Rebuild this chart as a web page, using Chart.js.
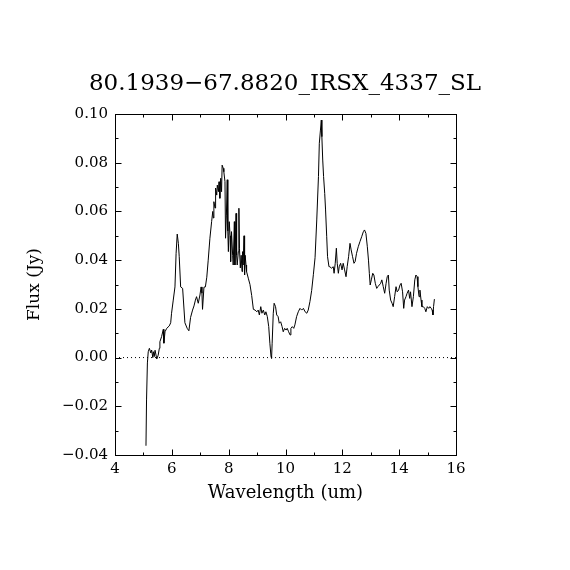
<!DOCTYPE html>
<html>
<head>
<meta charset="utf-8">
<title>80.1939-67.8820_IRSX_4337_SL</title>
<script src="https://cdn.jsdelivr.net/npm/chart.js@4.4.1/dist/chart.umd.min.js"></script>
<style>
  html, body { margin: 0; padding: 0; background: #fff; }
  #wrap { width: 570px; height: 570px; }
</style>
</head>
<body>
<div id="wrap"><canvas id="chart" width="570" height="570"></canvas></div>

<script>
    // spectrum
    var wavelength = [
        5.09, 5.11, 5.14, 5.17, 5.21, 5.26, 5.29, 5.33, 5.35, 5.38,
        5.41, 5.47, 5.52, 5.56, 5.58, 5.64, 5.70, 5.72, 5.76, 5.82,
        5.91, 5.96, 5.99, 6.05, 6.11, 6.15, 6.19, 6.23, 6.26, 6.31,
        6.38, 6.46, 6.54, 6.60, 6.66, 6.73, 6.78, 6.83, 6.87, 6.93,
        6.99, 7.03, 7.06, 7.08, 7.13, 7.18, 7.23, 7.28, 7.34, 7.40,
        7.44, 7.46, 7.48, 7.52, 7.54, 7.58, 7.60, 7.64, 7.66, 7.69,
        7.72, 7.75, 7.77, 7.81, 7.83, 7.87, 7.89, 7.92, 7.95, 7.97,
        7.99, 8.02, 8.05, 8.07, 8.10, 8.14, 8.16, 8.20, 8.22, 8.26,
        8.28, 8.30, 8.34, 8.36, 8.38, 8.41, 8.44, 8.47, 8.49, 8.51,
        8.54, 8.56, 8.58, 8.61, 8.63, 8.69, 8.75, 8.81, 8.87, 8.93,
        8.99, 9.04, 9.08, 9.13, 9.17, 9.22, 9.27, 9.31, 9.36, 9.41,
        9.45, 9.49, 9.51, 9.53, 9.57, 9.60, 9.65, 9.69, 9.74, 9.78,
        9.83, 9.88, 9.92, 9.97, 10.02, 10.06, 10.11, 10.16, 10.19, 10.24,
        10.29, 10.33, 10.39, 10.45, 10.51, 10.57, 10.63, 10.69, 10.75, 10.80,
        10.86, 10.92, 10.98, 11.04, 11.10, 11.16, 11.19, 11.23, 11.26, 11.28,
        11.31, 11.34, 11.38, 11.41, 11.45, 11.48, 11.53, 11.56, 11.62, 11.68,
        11.71, 11.75, 11.79, 11.82, 11.86, 11.89, 11.94, 11.99, 12.03, 12.08,
        12.13, 12.17, 12.22, 12.27, 12.31, 12.36, 12.41, 12.45, 12.50, 12.56,
        12.62, 12.68, 12.74, 12.78, 12.83, 12.88, 12.92, 12.95, 12.98, 13.02,
        13.07, 13.11, 13.16, 13.21, 13.25, 13.30, 13.35, 13.39, 13.44, 13.49,
        13.54, 13.58, 13.62, 13.65, 13.70, 13.75, 13.79, 13.84, 13.89, 13.93,
        13.98, 14.03, 14.07, 14.12, 14.16, 14.19, 14.24, 14.28, 14.33, 14.37,
        14.40, 14.45, 14.50, 14.55, 14.59, 14.63, 14.66, 14.70, 14.73, 14.77,
        14.80, 14.85, 14.90, 14.94, 14.99, 15.04, 15.08, 15.13, 15.16, 15.19,
        15.21, 15.24
    ];
    var flux = [
        -0.0362, -0.0174, -0.0022, 0.0024, 0.0038, 0.0019, 0.0031, 0.0000, 0.0024, 0.0004,
        0.0030, -0.0006, 0.0010, 0.0038, 0.0065, 0.0086, 0.0116, 0.0059, 0.0106, 0.0120,
        0.0130, 0.0143, 0.0182, 0.0236, 0.0290, 0.0428, 0.0507, 0.0469, 0.0414, 0.0290,
        0.0284, 0.0143, 0.0120, 0.0110, 0.0165, 0.0195, 0.0212, 0.0236, 0.0250, 0.0223,
        0.0257, 0.0290, 0.0264, 0.0198, 0.0289, 0.0290, 0.0330, 0.0400, 0.0490, 0.0558,
        0.0600, 0.0573, 0.0640, 0.0614, 0.0696, 0.0667, 0.0708, 0.0681, 0.0722, 0.0654,
        0.0736, 0.0681, 0.0790, 0.0777, 0.0763, 0.0722, 0.0490, 0.0585, 0.0730, 0.0520,
        0.0435, 0.0558, 0.0500, 0.0394, 0.0517, 0.0420, 0.0380, 0.0558, 0.0380, 0.0592,
        0.0420, 0.0380, 0.0435, 0.0613, 0.0449, 0.0368, 0.0420, 0.0353, 0.0435, 0.0380,
        0.0500, 0.0339, 0.0420, 0.0380, 0.0353, 0.0326, 0.0300, 0.0255, 0.0198, 0.0195,
        0.0188, 0.0195, 0.0175, 0.0209, 0.0182, 0.0195, 0.0175, 0.0188, 0.0168, 0.0127,
        0.0059, 0.0004, -0.0003, 0.0059, 0.0182, 0.0223, 0.0209, 0.0175, 0.0168, 0.0141,
        0.0147, 0.0127, 0.0106, 0.0120, 0.0113, 0.0120, 0.0106, 0.0093, 0.0120, 0.0127,
        0.0120, 0.0134, 0.0168, 0.0188, 0.0202, 0.0195, 0.0202, 0.0188, 0.0182, 0.0195,
        0.0230, 0.0275, 0.0340, 0.0410, 0.0565, 0.0743, 0.0880, 0.0934, 0.0975, 0.0907,
        0.0811, 0.0743, 0.0674, 0.0606, 0.0496, 0.0414, 0.0373, 0.0373, 0.0367, 0.0373,
        0.0346, 0.0387, 0.0449, 0.0387, 0.0346, 0.0373, 0.0387, 0.0360, 0.0387, 0.0360,
        0.0332, 0.0373, 0.0414, 0.0469, 0.0442, 0.0414, 0.0387, 0.0394, 0.0428, 0.0455,
        0.0476, 0.0496, 0.0517, 0.0524, 0.0510, 0.0455, 0.0400, 0.0346, 0.0298, 0.0319,
        0.0346, 0.0339, 0.0305, 0.0284, 0.0291, 0.0298, 0.0305, 0.0319, 0.0291, 0.0264,
        0.0305, 0.0332, 0.0339, 0.0277, 0.0236, 0.0223, 0.0209, 0.0250, 0.0291, 0.0270,
        0.0277, 0.0298, 0.0305, 0.0270, 0.0202, 0.0236, 0.0250, 0.0264, 0.0277, 0.0243,
        0.0270, 0.0209, 0.0250, 0.0319, 0.0339, 0.0332, 0.0291, 0.0250, 0.0277, 0.0236,
        0.0209, 0.0209, 0.0202, 0.0188, 0.0209, 0.0202, 0.0209, 0.0202, 0.0195, 0.0175,
        0.0209, 0.0240
    ];

    var titleText = '80.1939\u221267.8820_IRSX_4337_SL';
    var xTitle = 'Wavelength (um)';
    var yTitle = 'Flux (Jy)';
    var xRange = [4, 16];
    var yRange = [-0.04, 0.10];

    var serif = "'DejaVu Serif', 'Liberation Serif', serif";

    var spectrum = [];
    for (var i = 0; i < wavelength.length; i++) {
        spectrum.push({ x: wavelength[i], y: flux[i] });
    }
    var zeroLine = [{ x: xRange[0], y: 0 }, { x: xRange[1], y: 0 }];

    // box around the plot with inward ticks, drawn on the library's scales
    var frame = {
        id: 'frame',
        afterDraw: function(chart) {
            var ctx = chart.ctx;
            var a = chart.chartArea;
            var xs = chart.scales.x, ys = chart.scales.y;
            var L = Math.round(a.left) + 0.5, R = Math.round(a.right) + 0.5;
            var T = Math.round(a.top) + 0.5, B = Math.round(a.bottom) + 0.5;
            ctx.save();
            ctx.strokeStyle = '#000';
            ctx.lineWidth = 1;
            ctx.strokeRect(L, T, R - L, B - T);
            ctx.beginPath();
            var i, v, p, len;
            for (i = 0; i <= 12; i++) {
                v = xRange[0] + i;
                p = Math.round(xs.getPixelForValue(v)) + 0.5;
                len = (i % 2 === 0) ? 6 : 3;
                ctx.moveTo(p, B); ctx.lineTo(p, B - len);
                ctx.moveTo(p, T); ctx.lineTo(p, T + len);
            }
            for (i = 0; i <= 14; i++) {
                v = yRange[0] + i * 0.01;
                p = Math.round(ys.getPixelForValue(v)) + 0.5;
                len = (i % 2 === 0) ? 6 : 3;
                ctx.moveTo(L, p); ctx.lineTo(L + len, p);
                ctx.moveTo(R, p); ctx.lineTo(R - len, p);
            }
            ctx.stroke();
            ctx.restore();
        }
    };

    var ctx = document.getElementById('chart');
    new Chart(ctx, {
        type: 'scatter',
        data: {
            datasets: [{
                data: spectrum,
                showLine: true,
                borderColor: '#000',
                borderWidth: 1,
                pointRadius: 0,
                tension: 0
            }, {
                data: zeroLine,
                showLine: true,
                borderColor: '#000',
                borderWidth: 1,
                borderDash: [1, 3],
                pointRadius: 0
            }]
        },
        options: {
            responsive: false,
            animation: false,
            devicePixelRatio: 1,
            layout: { padding: 0 },
            plugins: {
                legend: { display: false },
                tooltip: { enabled: false },
                title: {
                    display: true,
                    text: titleText,
                    color: '#000',
                    font: { family: serif, size: 23, weight: 'normal', lineHeight: 1.2 },
                    padding: { top: 70, bottom: 16.4 }
                }
            },
            scales: {
                x: {
                    type: 'linear',
                    position: 'bottom',
                    min: xRange[0],
                    max: xRange[1],
                    grid: { display: false, drawTicks: false },
                    border: { display: false },
                    ticks: {
                        stepSize: 2,
                        color: '#000',
                        padding: 5,
                        maxRotation: 0,
                        font: { family: serif, size: 15 }
                    },
                    title: {
                        display: true,
                        text: xTitle,
                        color: '#000',
                        font: { family: serif, size: 18, lineHeight: 1.2 },
                        padding: { top: 0, bottom: 66 }
                    },
                    afterFit: function(scale) { scale.height = 115; }
                },
                y: {
                    type: 'linear',
                    position: 'left',
                    min: yRange[0],
                    max: yRange[1],
                    grid: { display: false, drawTicks: false },
                    border: { display: false },
                    ticks: {
                        stepSize: 0.02,
                        color: '#000',
                        padding: 7,
                        font: { family: serif, size: 15 },
                        callback: function(v) {
                            return v.toFixed(2).replace('-', '\u2212');
                        }
                    },
                    title: {
                        display: true,
                        text: yTitle,
                        color: '#000',
                        font: { family: serif, size: 17, lineHeight: 1.2 },
                        padding: { top: 24, bottom: 0 }
                    },
                    afterFit: function(scale) { scale.width = 115; }
                },
                y2: {
                    type: 'linear',
                    position: 'right',
                    display: true,
                    grid: { display: false, drawTicks: false },
                    border: { display: false },
                    ticks: { display: false },
                    afterFit: function(scale) { scale.width = 114; }
                }
            }
        },
        plugins: [frame]
    });
</script>
</body>
</html>
